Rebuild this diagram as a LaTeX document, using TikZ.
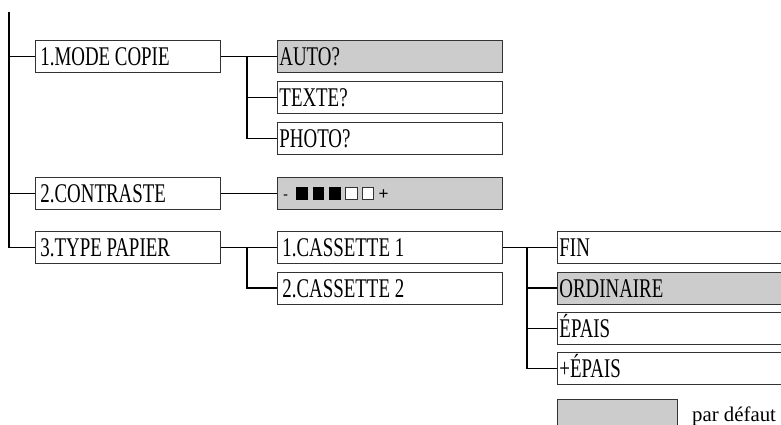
\documentclass[tikz,border=0pt]{standalone}
\usepackage{fontspec}
\setmainfont{Liberation Serif}
\newfontfamily\condserif[FakeStretch=0.7]{Liberation Serif}
\newfontfamily\symsans{Liberation Sans}
\definecolor{boxgray}{HTML}{CCCCCC}
\definecolor{edgegray}{HTML}{333333}
\begin{document}
\begin{tikzpicture}[x=1pt,y=-1pt,
  box/.style={draw=edgegray, line width=0.9pt, anchor=north west, minimum height=32pt,
    inner ysep=0pt, text height=19pt, text depth=0pt, align=left,
    font=\condserif\fontsize{27}{27}\selectfont,
    execute at begin node={\spaceskip=4.7pt\relax}},
  lvlone/.style={box, inner xsep=5pt, text width=175pt},
  lvltwo/.style={box, inner xsep=5pt, text width=215pt},
  lvltwob/.style={box, inner xsep=2pt, text width=221pt},
  lvlthree/.style={box, inner xsep=2pt, text width=260pt},
  dflt/.style={fill=boxgray},
  conn/.style={line width=1.3pt, black},
  sq/.style={draw=edgegray, line width=0.6pt}
]
\useasboundingbox (0,0) rectangle (781,424);
\clip (0,0) rectangle (781,424);

% level 1
\node[lvlone] (m1) at (35,40) {1.MODE COPIE};
\node[lvlone] (m2) at (35,177) {2.CONTRASTE};
\node[lvlone] (m3) at (35,231) {3.TYPE PAPIER};

% level 2
\node[lvltwob, dflt] (auto) at (277,40) {AUTO?};
\node[lvltwob] (texte) at (277,81) {TEXTE?};
\node[lvltwob] (photo) at (277,122) {PHOTO?};
\node[box, dflt, minimum width=225pt, inner xsep=0pt] (contr) at (277,177) {};
\node[lvltwo] (cas1) at (277,231) {1.CASSETTE 1};
\node[lvltwo] (cas2) at (277,271.5) {2.CASSETTE 2};

% contrast display
\node[font=\symsans\fontsize{15}{15}\selectfont, anchor=base west, inner sep=0pt] (minus) at (283,199) {-};
\foreach \i/\c in {0/black,1/black,2/black,3/white,4/white}{
  \fill[\c] (296+\i*16.5,187) rectangle ++(11.5,12.5);
}
\foreach \i in {3,4}{
  \draw[sq] (296+\i*16.5,187) rectangle ++(11.5,12.5);
}
\node[font=\symsans\fontsize{17}{17}\selectfont, anchor=base west, inner sep=0pt] (plus) at (378.5,199.5) {+};

% level 3
\node[lvlthree] (fin) at (557,231) {FIN};
\node[lvlthree, dflt] (ordi) at (557,271.5) {ORDINAIRE};
\node[lvlthree] (epais) at (557,312) {ÉPAIS};
\node[lvlthree] (pepais) at (557,352) {+ÉPAIS};

% legend
\node[box, dflt, minimum width=120pt, minimum height=40pt, inner xsep=0pt] (leg) at (557,399) {};
\node[font=\fontsize{20.8}{20.8}\selectfont, anchor=base west, inner sep=0pt] (legtxt) at (692,421) {par défaut};

% connectors
\coordinate (root) at (9,12);
\coordinate (ja) at (247,0);
\coordinate (jb) at (527,0);
\draw[conn] (root) |- (m3.west);
\draw[conn] (root |- m1.west) -- (m1.west);
\draw[conn] (root |- m2.west) -- (m2.west);

\draw[conn] (m1.east) -- (auto.west);
\draw[conn] (m1.east -| ja) |- (photo.west);
\draw[conn] (ja |- texte.west) -- (texte.west);

\draw[conn] (m2.east) -- (contr.west);

\draw[conn] (m3.east) -- (cas1.west);
\draw[conn] (m3.east -| ja) |- (cas2.west);

\draw[conn] (cas1.east) -- (fin.west);
\draw[conn] (cas1.east -| jb) |- (pepais.west);
\draw[conn] (jb |- ordi.west) -- (ordi.west);
\draw[conn] (jb |- epais.west) -- (epais.west);
\end{tikzpicture}
\end{document}
